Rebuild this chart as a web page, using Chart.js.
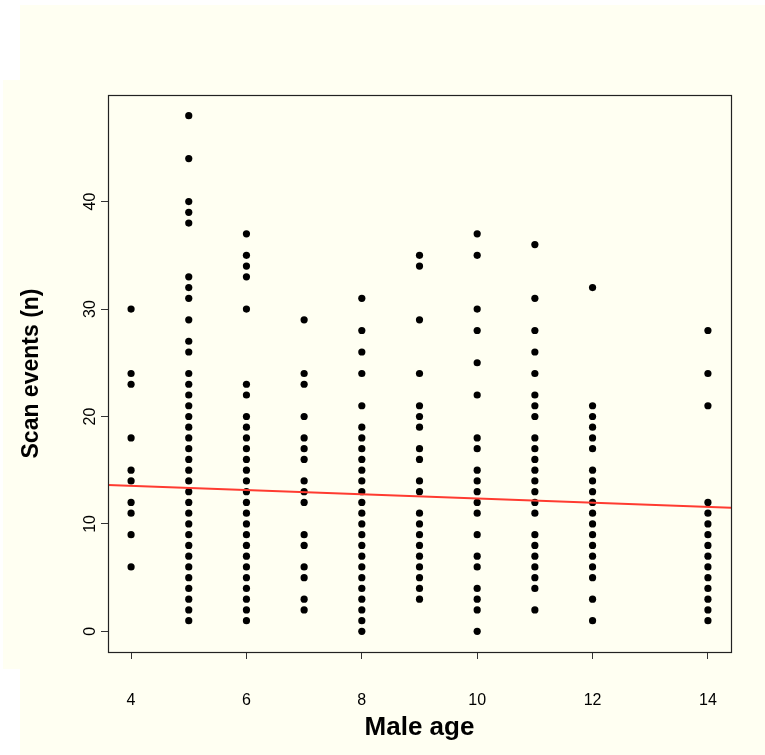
<!DOCTYPE html>
<html>
<head>
<meta charset="utf-8">
<script src="https://cdn.jsdelivr.net/npm/chart.js@4.4.1/dist/chart.umd.min.js"></script>
<style>
  html, body { margin: 0; padding: 0; background: #ffffff; overflow: hidden; }
  canvas { display: block; }
</style>
</head>
<body>
<canvas id="chart" width="765" height="755"></canvas>
<script>
// Scan events recorded per male, grouped by male age (years)
const scansAge4  = [6, 9, 11, 12, 14, 15, 18, 23, 24, 30];
const scansAge5  = [1, 2, 3, 4, 5, 6, 7, 8, 9, 10, 11, 12, 13, 14, 15, 16, 17, 18, 19, 20, 21, 22, 23, 24, 26, 27, 29, 31, 32, 33, 38, 39, 40, 44, 48];
const scansAge6  = [1, 2, 3, 4, 5, 6, 7, 8, 9, 10, 11, 12, 13, 14, 15, 16, 17, 18, 19, 20, 22, 23, 30, 33, 34, 35, 37];
const scansAge7  = [2, 3, 5, 6, 8, 9, 12, 13, 14, 16, 17, 18, 20, 23, 24, 29];
const scansAge8  = [0, 1, 2, 3, 4, 5, 6, 7, 8, 9, 10, 11, 12, 13, 14, 15, 16, 17, 18, 19, 21, 24, 26, 28, 31];
const scansAge9  = [3, 4, 5, 6, 7, 8, 9, 10, 11, 13, 14, 16, 17, 19, 20, 21, 24, 29, 34, 35];
const scansAge10 = [0, 2, 3, 4, 6, 7, 9, 11, 12, 13, 14, 15, 17, 18, 22, 25, 28, 30, 35, 37];
const scansAge11 = [2, 4, 5, 6, 7, 8, 9, 11, 12, 13, 14, 15, 16, 17, 18, 20, 21, 22, 24, 26, 28, 31, 36];
const scansAge12 = [1, 3, 5, 6, 7, 8, 9, 10, 11, 12, 13, 14, 15, 17, 18, 19, 20, 21, 32];
const scansAge14 = [1, 2, 3, 4, 5, 6, 7, 8, 9, 10, 11, 12, 21, 24, 28];

const maleAges = [4, 5, 6, 7, 8, 9, 10, 11, 12, 14];
const scanGroups = [scansAge4, scansAge5, scansAge6, scansAge7, scansAge8, scansAge9, scansAge10, scansAge11, scansAge12, scansAge14];

// Fitted linear trend, given at the two ends of the age axis
const trendAges  = [3.6, 14.4];
const trendScans = [13.62, 11.5];

// Axis ticks
const ageTicks  = [4, 6, 8, 10, 12, 14];
const scanTicks = [0, 10, 20, 30, 40];

const FONT = "'Liberation Sans', Arial, Helvetica, sans-serif";
const PAPER = '#fffff2';

const scatterPoints = [];
maleAges.forEach((age, i) => {
  scanGroups[i].forEach(n => scatterPoints.push({ x: age, y: n }));
});
const trendPoints = trendAges.map((a, i) => ({ x: a, y: trendScans[i] }));

// Paper background and the frame around the plotting region
const paperAndFrame = {
  id: 'paperAndFrame',
  beforeDraw(chart) {
    const ctx = chart.ctx;
    ctx.save();
    ctx.fillStyle = '#ffffff';
    ctx.fillRect(0, 0, chart.width, chart.height);
    ctx.fillStyle = PAPER;
    ctx.fillRect(20, 5, 745, 75);
    ctx.fillRect(3, 80, 762, 589);
    ctx.fillRect(20, 669, 745, 86);
    ctx.restore();
  },
  afterDraw(chart) {
    const { left, top, right, bottom } = chart.chartArea;
    const ctx = chart.ctx;
    ctx.save();
    ctx.strokeStyle = '#222222';
    ctx.lineWidth = 1.2;
    ctx.strokeRect(Math.round(left) + 0.5, Math.round(top) + 0.5,
                   Math.round(right - left), Math.round(bottom - top));
    ctx.restore();
  }
};

new Chart(document.getElementById('chart'), {
  type: 'scatter',
  data: {
    datasets: [
      {
        label: 'trend',
        data: trendPoints,
        showLine: true,
        borderColor: '#ff3b30',
        borderWidth: 2,
        pointRadius: 0,
        fill: false,
        order: 0
      },
      {
        label: 'scans',
        data: scatterPoints,
        backgroundColor: '#000000',
        borderColor: '#000000',
        borderWidth: 0,
        pointRadius: 3.6,
        order: 1
      }
    ]
  },
  options: {
    responsive: false,
    animation: false,
    events: [],
    layout: { padding: { left: 0, top: 95, right: 34, bottom: 0 } },
    plugins: { legend: { display: false }, tooltip: { enabled: false } },
    scales: {
      x: {
        type: 'linear',
        min: 3.6,
        max: 14.4,
        afterBuildTicks: s => { s.ticks = ageTicks.map(v => ({ value: v })); },
        afterFit: s => { s.height = 103; },
        border: { display: false },
        grid: { drawOnChartArea: false, drawTicks: true, tickLength: 7, color: '#333333', lineWidth: 1 },
        ticks: {
          autoSkip: false, maxRotation: 0, padding: 32, color: '#000000',
          font: { family: FONT, size: 16 }
        },
        title: {
          display: true, text: 'Male age', color: '#000000',
          font: { family: FONT, size: 26, weight: 'bold' },
          padding: { top: 0, bottom: 12 }
        }
      },
      y: {
        type: 'linear',
        min: -1.92,
        max: 49.92,
        afterBuildTicks: s => { s.ticks = scanTicks.map(v => ({ value: v })); },
        afterFit: s => { s.width = 108; },
        border: { display: false },
        grid: { drawOnChartArea: false, drawTicks: true, tickLength: 7, color: '#333333', lineWidth: 1 },
        ticks: {
          autoSkip: false, minRotation: 90, maxRotation: 90, crossAlign: 'center',
          padding: 2, color: '#000000',
          font: { family: FONT, size: 16 }
        },
        title: {
          display: true, text: 'Scan events (n)', color: '#000000',
          font: { family: FONT, size: 23, weight: 'bold' },
          padding: { top: 18, bottom: 0 }
        }
      }
    }
  },
  plugins: [paperAndFrame]
});
</script>
</body>
</html>
